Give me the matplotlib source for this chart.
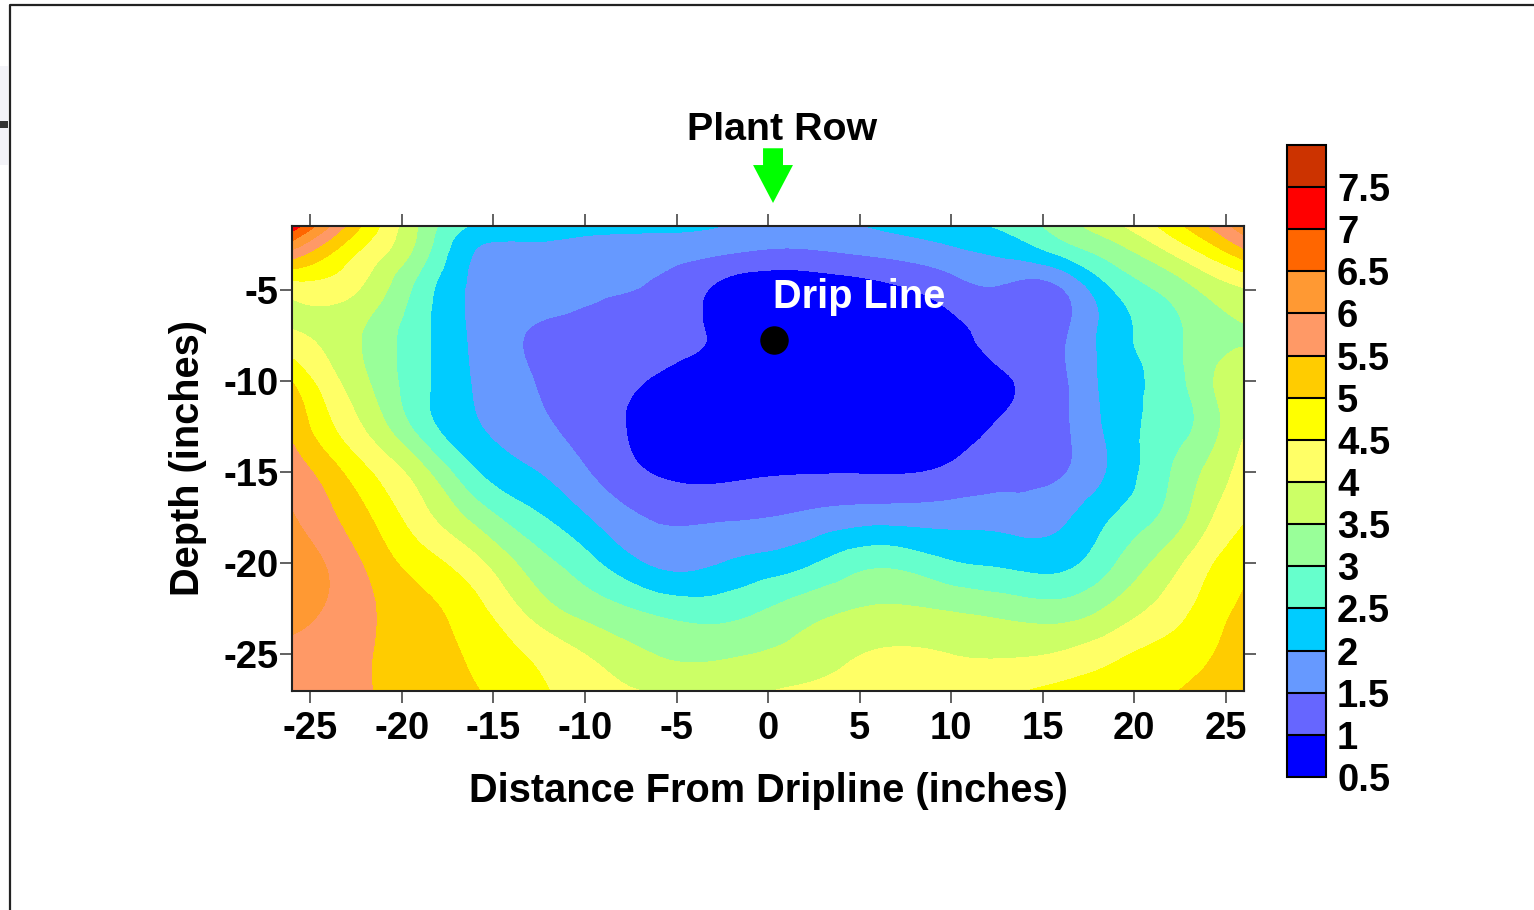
import numpy as np
import matplotlib
matplotlib.use("Agg")
import matplotlib.pyplot as plt
import matplotlib.tri as mtri
from matplotlib.patches import FancyArrow, Rectangle
from matplotlib.lines import Line2D

plt.rcParams['font.family'] = ['Liberation Sans', 'DejaVu Sans']
plt.rcParams['font.weight'] = 'bold'
plt.rcParams['axes.labelweight'] = 'bold'
plt.rcParams['axes.unicode_minus'] = False

# distance from dripline (inches) and depth (inches) of the grid
dist = np.array([-26, -24, -22, -19, -16, -13, -10, -6, -2, 2, 6, 10, 13, 16, 19, 22, 24, 26])
depth = np.array([-1.5, -3, -5, -7.5, -10, -12.5, -15, -17.5, -20, -22.5, -25, -27])

# values, one row per depth
moisture = np.array([
    [7.3, 6.05, 4.9, 3.42, 2.45, 2.3, 2.2, 2.1, 1.97, 1.85, 2.05, 2.35, 2.6, 3.25, 3.9, 4.75, 5.5, 6.3],
    [5.8, 5.05, 4.35, 3.25, 1.97, 1.85, 1.75, 1.7, 1.5, 1.4, 1.58, 1.85, 2.1, 2.6, 3.25, 4.0, 4.6, 5.3],
    [4.2, 4.25, 3.9, 2.8, 1.9, 1.75, 1.6, 1.4, 0.8, 0.65, 0.85, 1.25, 1.4, 1.45, 2.55, 3.15, 3.62, 3.95],
    [4.08, 3.85, 3.45, 2.65, 1.9, 1.47, 1.3, 1.2, 0.85, 0.66, 0.72, 0.9, 1.1, 1.4, 2.3, 2.85, 3.3, 3.48],
    [4.98, 4.2, 3.57, 2.65, 1.95, 1.52, 1.25, 0.95, 0.7, 0.6, 0.65, 0.8, 0.98, 1.38, 2.25, 2.75, 3.4, 3.7],
    [5.4, 4.6, 3.95, 2.8, 2.05, 1.65, 1.3, 0.8, 0.65, 0.6, 0.6, 0.8, 1.05, 1.38, 2.2, 2.75, 3.25, 3.95],
    [5.75, 5.25, 4.6, 3.7, 2.55, 2.05, 1.55, 0.95, 0.9, 0.97, 0.97, 1.1, 1.3, 1.45, 2.15, 3.0, 3.6, 4.2],
    [6.05, 5.6, 5.1, 4.2, 3.35, 2.65, 2.05, 1.45, 1.45, 1.6, 1.8, 1.8, 1.8, 1.9, 2.55, 3.2, 3.9, 4.45],
    [6.3, 5.95, 5.45, 4.75, 4.15, 3.3, 2.7, 1.9, 2.05, 2.4, 2.9, 2.55, 2.4, 2.35, 3.0, 3.8, 4.4, 4.85],
    [6.15, 5.95, 5.6, 5.15, 4.65, 3.85, 3.3, 2.85, 2.8, 3.25, 3.55, 3.45, 3.3, 3.2, 3.65, 4.25, 4.7, 5.1],
    [5.9, 5.8, 5.55, 5.25, 4.9, 4.45, 4.0, 3.48, 3.45, 3.7, 4.05, 4.0, 3.95, 4.05, 4.4, 4.72, 4.95, 5.3],
    [5.8, 5.75, 5.55, 5.25, 5.03, 4.65, 4.25, 3.95, 3.9, 4.1, 4.25, 4.3, 4.42, 4.65, 4.87, 4.98, 5.15, 5.4],
])

levels = np.arange(0.5, 8.01, 0.5)
band_colors = ['#0000ff', '#6666ff', '#6699ff', '#00ccff', '#66ffcc', '#99ff99', '#ccff66',
               '#ffff66', '#ffff00', '#ffcc00', '#ff9966', '#ff9933', '#ff6600', '#ff0000', '#cc3300']
level_labels = ['0.5', '1', '1.5', '2', '2.5', '3', '3.5', '4', '4.5', '5', '5.5', '6', '6.5', '7', '7.5']
x_ticks = [-25, -20, -15, -10, -5, 0, 5, 10, 15, 20, 25]
y_ticks = [-25, -20, -15, -10, -5]

drip_x, drip_y = 0.33, -7.73

# triangulate the grid with the same diagonal in every cell
ny, nx = moisture.shape
X, Y = np.meshgrid(dist, depth)
idx = np.arange(nx * ny).reshape(ny, nx)
a = idx[:-1, :-1].ravel()
b = idx[:-1, 1:].ravel()
c = idx[1:, 1:].ravel()
d = idx[1:, :-1].ravel()
triangles = np.concatenate([np.column_stack([a, b, c]), np.column_stack([a, c, d])])
tri = mtri.Triangulation(X.ravel(), Y.ravel(), triangles)
refiner = mtri.UniformTriRefiner(tri)
interp = mtri.CubicTriInterpolator(tri, moisture.ravel(), kind='min_E')
tri_f, z_f = refiner.refine_field(moisture.ravel(), triinterpolator=interp, subdiv=3)
z_f = np.clip(z_f, 0.51, 7.99)

fig = plt.figure(figsize=(15.34, 9.10), dpi=100)
ax = fig.add_axes([0.1904, 0.2407, 0.6206, 0.511])
cs = ax.tricontourf(tri_f, z_f, levels=levels, colors=band_colors)

ax.set_xlim(-26, 26)
ax.set_ylim(-27, -1.5)
ax.set_xticks(x_ticks)
ax.set_yticks(y_ticks)
ax.tick_params(direction='out', top=True, right=True, length=8.5, width=1.3,
               color='#555555', labelsize=27.5)
ax.tick_params(axis='x', pad=6)
ax.tick_params(axis='y', pad=1)
for s in ax.spines.values():
    s.set_linewidth(1.5)
    s.set_color('#222222')

ax.set_xlabel('Distance From Dripline (inches)', fontsize=28.6, labelpad=18)
ax.set_ylabel('Depth (inches)', fontsize=28.6, labelpad=12)

ax.plot(drip_x, drip_y, 'o', color='black', markersize=19.5)
ax.text(0.27, -5.98, 'Drip Line', color='white', fontsize=28.6, ha='left', va='baseline')

ax.add_patch(FancyArrow(0.27, 2.76, 0, -3.0, width=1.09, head_width=2.18, head_length=2.08,
                        length_includes_head=True, color='#00ff00', clip_on=False, lw=0))
fig.text(0.5098, 0.8462, 'Plant Row', ha='center', va='baseline', fontsize=28.4)

cax = fig.add_axes([0.839, 0.1462, 0.0254, 0.6945])
cb = fig.colorbar(cs, cax=cax, ticks=levels[:-1], drawedges=True)
cb.ax.set_yticklabels(level_labels)
cb.ax.tick_params(length=0, labelsize=27.5, pad=8)
cb.outline.set_linewidth(1.5)
cb.outline.set_color('black')
cb.dividers.set_linewidth(1.5)
cb.dividers.set_color('black')

# frame around the figure
fig.add_artist(Line2D([0.0065, 0.0065, 1.0], [0.0, 0.9945, 0.9945], transform=fig.transFigure,
                      color='#222222', lw=1.6))
fig.add_artist(Rectangle((0, 0.819), 0.0055, 0.108, transform=fig.transFigure,
                         facecolor='#f3f3f8', edgecolor='none'))
fig.add_artist(Rectangle((0, 0.859), 0.0055, 0.008, transform=fig.transFigure,
                         facecolor='#333333', edgecolor='none'))

fig.savefig('out.png', dpi=100)
